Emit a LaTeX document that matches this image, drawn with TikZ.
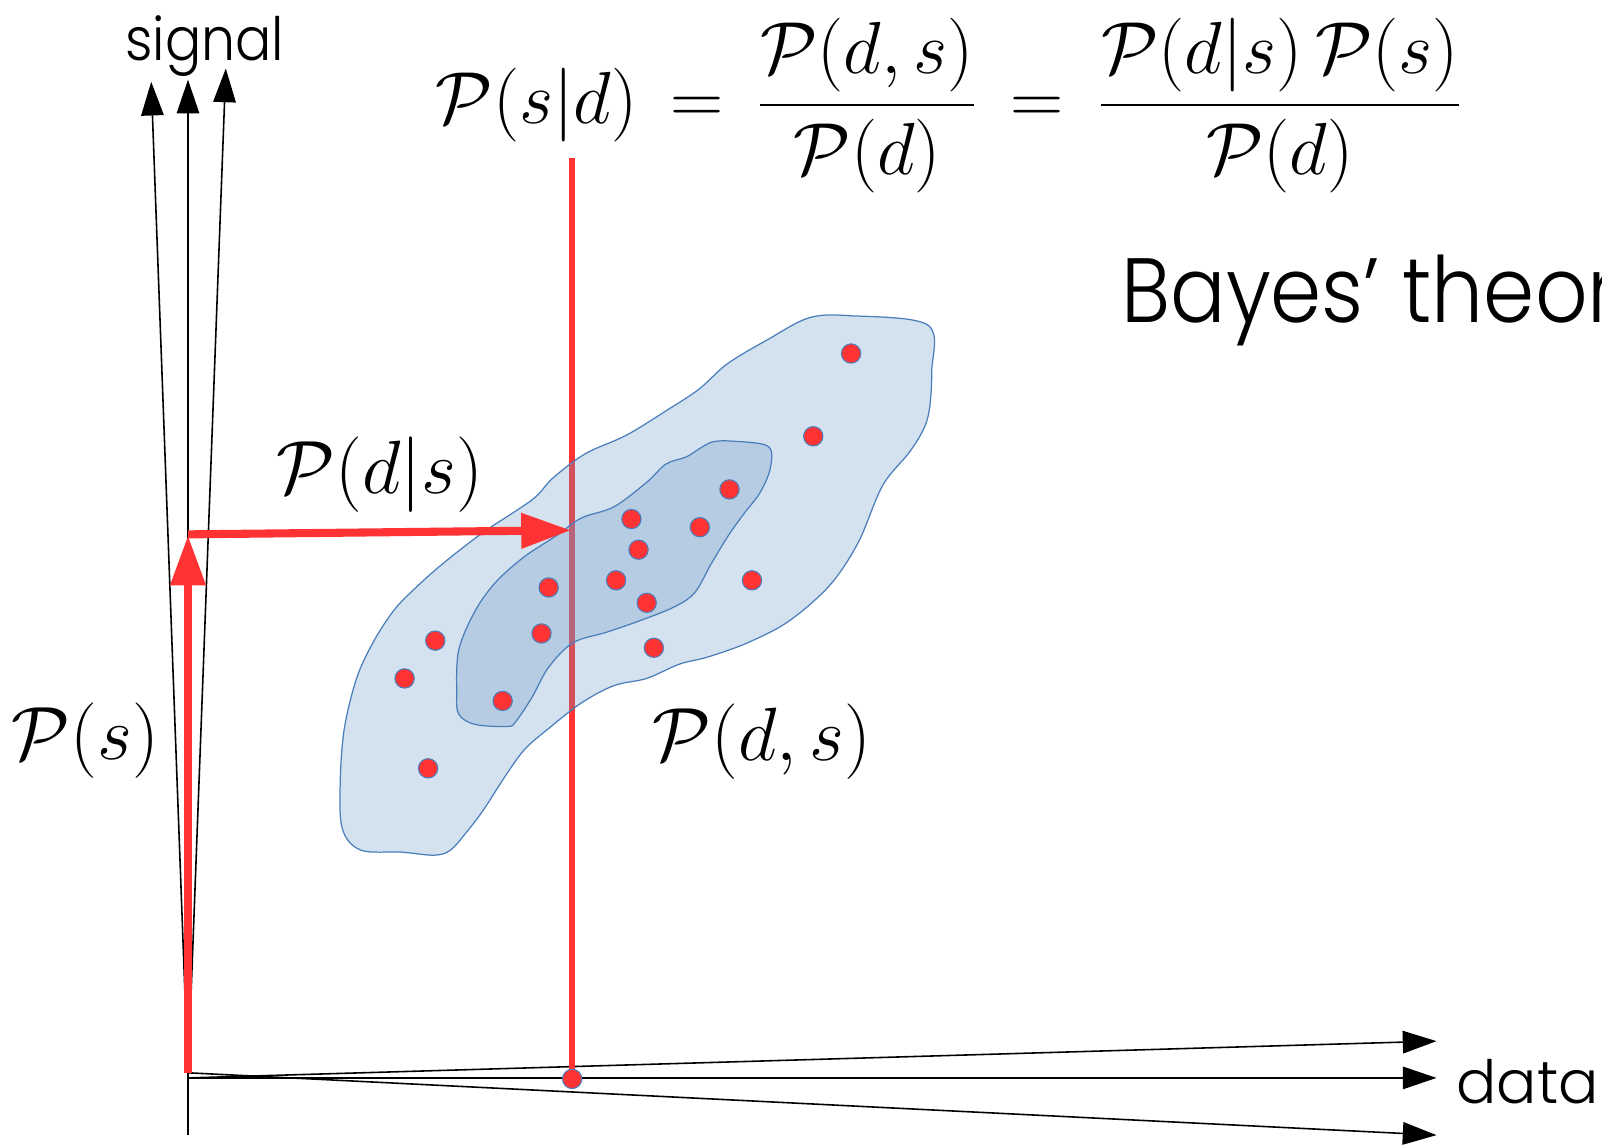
\RequirePackage{fix-cm}
\documentclass[tikz,border=0pt]{standalone}
\usepackage{fontspec}
\newfontfamily\gothic{Poppins Light}
\newfontfamily\gothicn{Poppins Light}[FakeStretch=0.9]
\usetikzlibrary{arrows.meta}
\definecolor{ptred}{HTML}{FF3333}
\definecolor{blobblue}{HTML}{6B98C4}
\definecolor{edgeblue}{HTML}{4A7EBB}

\begin{document}
\begin{tikzpicture}[
        x=0.010217cm, y=-0.010217cm,
        axis/.style={-{Triangle[length=9.6pt,width=6.4pt]}, line width=0.45pt},
        redarr/.style={-{Triangle[length=14.2pt,width=9.6pt]}, ptred, line width=2.3pt},
        cut/.style={ptred, line width=1.7pt},
        blob/.style={fill=blobblue, fill opacity=0.29, draw=edgeblue, line width=0.35pt},
        dot/.style={circle, fill=ptred, draw=edgeblue, line width=0.3pt, minimum size=5.5pt, inner sep=0pt},
        word/.style={font=\gothic\fontsize{17}{17}\selectfont, inner sep=0pt},
        mth/.style={font=\fontsize{21.5}{22}\selectfont, inner sep=0pt},
    ]

    \clip (0,0) rectangle (1568,1123);

    % ----- Axes -----
    \coordinate (o) at (184,1053);
    \coordinate (oh) at (184,1055);
    \coordinate (od) at (184,1050);
    \coordinate (vbot) at (184,1111);
    \coordinate (sigL) at (148,80);
    \coordinate (sigM) at (184,78);
    \coordinate (sigR) at (221,67);
    \coordinate (datT) at (1406,1019);
    \coordinate (datM) at (1406,1055);
    \coordinate (datB) at (1406,1111);

    \draw[axis] (vbot) -- (sigM);
    \draw[axis] (o) -- (sigL);
    \draw[axis] (o) -- (sigR);
    \draw[axis] (oh) -- (datM);
    \draw[axis] (oh) -- (datT);
    \draw[axis] (od) -- (datB);

    \node[word, font=\gothicn\fontsize{17}{17}\selectfont, anchor=base west] (sig) at (122,59) {signal};
    \node[word, anchor=base west] (dat) at (1425,1080) {data};

    % ----- Cut at fixed data -----
    \coordinate (dpt) at (560,1056);
    \coordinate (cuttop) at (560,155);
    \draw[cut] (dpt) -- (cuttop);

    % ----- Joint distribution -----
    \draw[blob] plot[smooth cycle, tension=0.55] coordinates {
        (908,318) (832,309) (792,311) (752,332) (712,356) (684,381) (652,402)
        (613,426) (573,444) (541,468) (521,489) (473,521) (433,552) (405,577)
        (385,598) (365,629) (349,664) (337,713) (333,765) (335,811) (353,832)
        (393,834) (425,837) (441,832) (457,814) (473,793) (493,762) (513,734)
        (537,713) (569,688) (601,671) (633,664) (665,650) (693,643) (732,629)
        (772,608) (812,573) (840,531) (864,475) (892,440) (908,409) (912,363)};
    \draw[blob] plot[smooth cycle, tension=0.55] coordinates {
        (752,437) (720,432) (696,433) (672,447) (652,454) (633,472) (601,496)
        (569,507) (545,524) (513,545) (485,570) (465,598) (449,636) (447,678)
        (449,699) (465,709) (497,711) (505,706) (521,682) (537,653) (561,629)
        (593,619) (625,608) (660,594) (680,580) (696,552) (713,524) (728,503)
        (744,482) (754,458)};

    % samples
    \node[dot] (d1) at (833,346) {};
    \node[dot] (d2) at (796,427) {};
    \node[dot] (d3) at (714,479) {};
    \node[dot] (d4) at (618,508) {};
    \node[dot] (d5) at (685,516) {};
    \node[dot] (d6) at (625,538) {};
    \node[dot] (d7) at (603,568) {};
    \node[dot] (d8) at (537,575) {};
    \node[dot] (d9) at (633,590) {};
    \node[dot] (d10) at (736,568) {};
    \node[dot] (d11) at (530,620) {};
    \node[dot] (d12) at (640,634) {};
    \node[dot] (d13) at (426,627) {};
    \node[dot] (d14) at (396,664) {};
    \node[dot] (d15) at (492,686) {};
    \node[dot] (d16) at (419,752) {};
    \node[dot] (dd) at (dpt) {};

    % ----- Prior and likelihood -----
    \coordinate (pbase) at (184,1050);
    \coordinate (ptop) at (184,524);
    \coordinate (hstart) at (184,523);
    \coordinate (hend) at (559,519);
    \draw[redarr] (pbase) -- (ptop);
    \draw[redarr] (hstart) -- (hend);

    % ----- Labels -----
    \node[mth, anchor=base west] (prior) at (11,743) {$\mathcal{P}(s)$};
    \node[mth, anchor=base west] (lik) at (270,483) {$\mathcal{P}(d|s)$};
    \node[mth, anchor=base west] (joint) at (638,744) {$\mathcal{P}(d,s)$};
    \node[mth, font=\fontsize{21}{22}\selectfont, anchor=base west] (bayeseq) at (426,121)
        {$\displaystyle\mathcal{P}(s|d) \mskip3mu=\mskip3mu \frac{\mathcal{P}(d,s)}{\mathcal{P}(d)} \mskip3mu=\mskip3mu \frac{\mathcal{P}(d|s)\,\mathcal{P}(s)}{\mathcal{P}(d)}$};
    \node[word, font=\gothicn\fontsize{26}{26}\selectfont, anchor=base west] (bayes) at (1097,316) {Bayes’ theorem};

\end{tikzpicture}
\end{document}
